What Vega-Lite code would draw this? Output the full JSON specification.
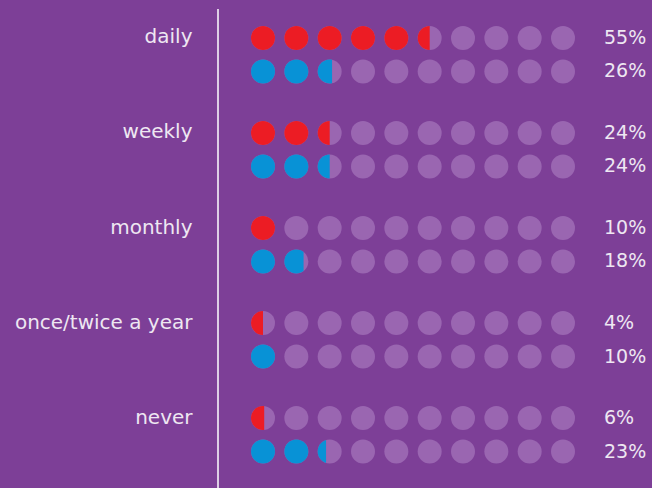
{
  "$schema": "https://vega.github.io/schema/vega-lite/v6.json",
  "width": 434,
  "height": 479,
  "autosize": "none",
  "padding": {"left": 218, "top": 9, "right": 0, "bottom": 0},
  "background": "#7D3F97",
  "config": {"view": {"stroke": null}, "font": "DejaVu Sans"},
  "datasets": {
    "rows": [
      {"c": "daily", "s": "A", "pct": "55%", "f": [1,1,1,1,1,0.5,0,0,0,0], "i": [0,1,2,3,4,5,6,7,8,9]},
      {"c": "daily", "s": "B", "pct": "26%", "f": [1,1,0.6,0,0,0,0,0,0,0], "i": [0,1,2,3,4,5,6,7,8,9]},
      {"c": "weekly", "s": "A", "pct": "24%", "f": [1,1,0.5,0,0,0,0,0,0,0], "i": [0,1,2,3,4,5,6,7,8,9]},
      {"c": "weekly", "s": "B", "pct": "24%", "f": [1,1,0.5,0,0,0,0,0,0,0], "i": [0,1,2,3,4,5,6,7,8,9]},
      {"c": "monthly", "s": "A", "pct": "10%", "f": [1,0,0,0,0,0,0,0,0,0], "i": [0,1,2,3,4,5,6,7,8,9]},
      {"c": "monthly", "s": "B", "pct": "18%", "f": [1,0.8,0,0,0,0,0,0,0,0], "i": [0,1,2,3,4,5,6,7,8,9]},
      {"c": "once/twice a year", "s": "A", "pct": "4%", "f": [0.5,0,0,0,0,0,0,0,0,0], "i": [0,1,2,3,4,5,6,7,8,9]},
      {"c": "once/twice a year", "s": "B", "pct": "10%", "f": [1,0,0,0,0,0,0,0,0,0], "i": [0,1,2,3,4,5,6,7,8,9]},
      {"c": "never", "s": "A", "pct": "6%", "f": [0.55,0,0,0,0,0,0,0,0,0], "i": [0,1,2,3,4,5,6,7,8,9]},
      {"c": "never", "s": "B", "pct": "23%", "f": [1,1,0.35,0,0,0,0,0,0,0], "i": [0,1,2,3,4,5,6,7,8,9]}
    ]
  },
  "data": {"name": "rows"},
  "layer": [
    {
      "transform": [{"flatten": ["f", "i"]}],
      "mark": {"type": "point", "filled": true, "size": 576, "opacity": 1, "shape": "circle", "color": "#9A66B1"},
      "encoding": {
        "x": {"field": "i", "type": "quantitative", "scale": {"domain": [-1.35, 11.67], "nice": false, "zero": false}, "axis": null},
        "y": {"field": "c", "type": "nominal", "sort": ["daily", "weekly", "monthly", "once/twice a year", "never"],
              "scale": {"paddingInner": 0, "paddingOuter": 0.02},
              "axis": {"title": null, "ticks": false, "domain": false, "labelPadding": 26, "labelOffset": -21, "labelFontSize": 20, "labelFontWeight": "normal", "labelColor": "#EEE7F2", "labelFont": "DejaVu Sans", "labelBaseline": "middle", "labelLimit": 300}},
        "yOffset": {"field": "s", "type": "nominal", "sort": ["A", "B"], "scale": {"type": "point", "range": [27, 60.5], "padding": 0}}
      }
    },
    {
      "transform": [{"flatten": ["f", "i"]}, {"filter": "datum.f > 0"}],
      "mark": {"type": "point", "filled": true, "size": 576, "opacity": 1},
      "encoding": {
        "x": {"field": "i", "type": "quantitative"},
        "y": {"field": "c", "type": "nominal", "sort": ["daily", "weekly", "monthly", "once/twice a year", "never"]},
        "yOffset": {"field": "s", "type": "nominal", "sort": ["A", "B"]},
        "shape": {"field": "f", "type": "nominal", "legend": null,
                  "scale": {"domain": [1, 0.5, 0.55, 0.6, 0.8, 0.35],
                            "range": ["circle", "M 0,-1 A 1,1 0 0 0 0,1 Z", "M 0.1,-0.995 A 1,1 0 1 0 0.1,0.995 Z", "M 0.2,-0.98 A 1,1 0 1 0 0.2,0.98 Z", "M 0.6,-0.8 A 1,1 0 1 0 0.6,0.8 Z", "M -0.3,-0.954 A 1,1 0 0 0 -0.3,0.954 Z"]}},
        "color": {"field": "s", "type": "nominal", "legend": null, "scale": {"domain": ["A", "B"], "range": ["#EC1C24", "#0892D6"]}}
      }
    },
    {
      "mark": {"type": "text", "align": "left", "baseline": "middle", "fontSize": 19, "fontWeight": "normal", "color": "#EEE7F2", "font": "DejaVu Sans"},
      "encoding": {
        "x": {"datum": 10.23},
        "y": {"field": "c", "type": "nominal", "sort": ["daily", "weekly", "monthly", "once/twice a year", "never"]},
        "yOffset": {"field": "s", "type": "nominal", "sort": ["A", "B"]},
        "text": {"field": "pct"}
      }
    },
    {
      "data": {"values": [{}]},
      "mark": {"type": "rule", "color": "#FFFFFF", "strokeWidth": 1.5},
      "encoding": {"x": {"datum": -1.35}}
    }
  ]
}
